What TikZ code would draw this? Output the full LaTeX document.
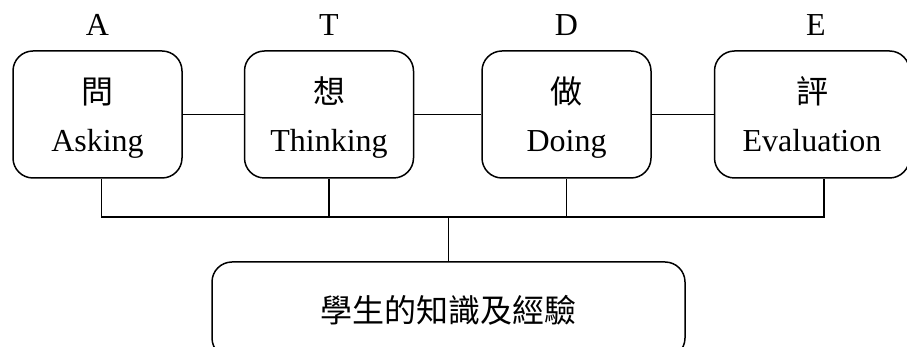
\documentclass[tikz,border=0pt]{standalone}
\usepackage{fontspec}
\setmainfont{Liberation Serif}
\newfontfamily\cjk{Noto Sans CJK TC}
\usetikzlibrary{positioning}

\begin{document}
\begin{tikzpicture}
    [x=1pt, y=1pt, line width=1.5pt,
     box/.style={draw, rounded corners=20pt, align=center, minimum width=169pt, minimum height=127pt, inner sep=0pt, text height=78pt, text depth=3pt, font=\fontsize{32}{48}\selectfont},
     tag/.style={inner sep=0pt, font=\fontsize{32}{38}\selectfont}]
    \useasboundingbox (0,0) rectangle (907,347);
    \clip (0,0) rectangle (907,347);

    \node[box] (ask) at (97.5,232.5) {{\cjk 問}\\Asking};
    \node[box, right=61pt of ask] (think) {{\cjk 想}\\Thinking};
    \node[box, right=67pt of think] (do) {{\cjk 做}\\Doing};
    \node[box, right=62pt of do, minimum width=195pt] (eval) {{\cjk 評}\\Evaluation};

    \node[tag, above=14pt of ask] (a) {A};
    \node[tag, above=14pt of think] (t) {T};
    \node[tag, above=14pt of do] (d) {D};
    \node[tag, above=14pt of eval, xshift=4pt] (e) {E};

    \node[box, minimum width=473pt, minimum height=96pt, text height=, text depth=, font=\cjk\fontsize{32}{40}\selectfont] (base) at (448.5,37) {學生的知識及經驗};

    \draw (ask) -- (think);
    \draw (think) -- (do);
    \draw (do) -- (eval);

    \coordinate[above=44pt of base] (bus);
    \draw (base) -- (bus);
    \draw (bus) -| ([xshift=4pt]ask.south);
    \draw (bus) -| (think);
    \draw (bus) -| (do);
    \draw (bus) -| ([xshift=12pt]eval.south);
\end{tikzpicture}
\end{document}
